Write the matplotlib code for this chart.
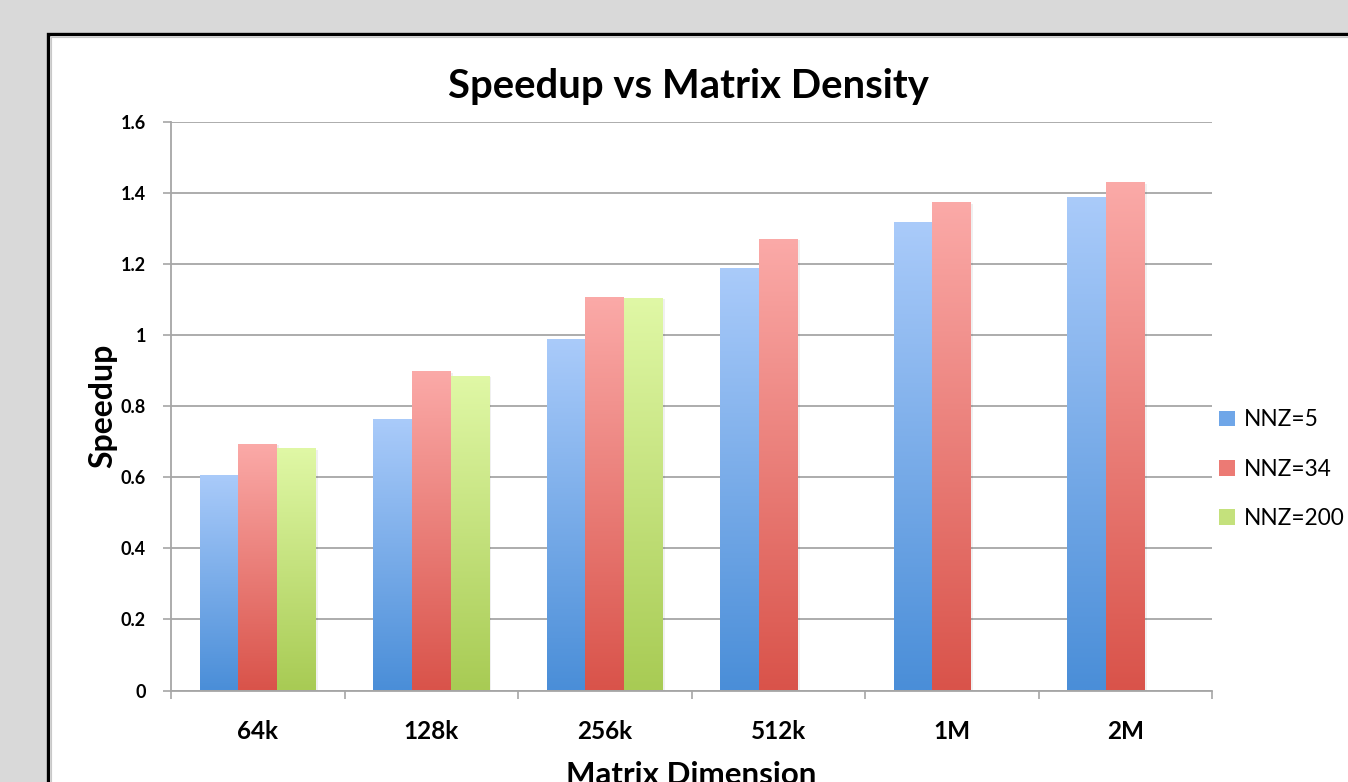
import numpy as np
import matplotlib
matplotlib.use("Agg")
import matplotlib.pyplot as plt
from matplotlib.patches import Rectangle, Patch
from matplotlib.colors import LinearSegmentedColormap

categories = ["64k", "128k", "256k", "512k", "1M", "2M"]
series_names = ["NNZ=5", "NNZ=34", "NNZ=200"]
nnz5 = [0.607, 0.763, 0.988, 1.188, 1.319, 1.388]
nnz34 = [0.694, 0.898, 1.107, 1.271, 1.374, 1.430]
nnz200 = [0.682, 0.885, 1.105, None, None, None]
y_ticks = [0, 0.2, 0.4, 0.6, 0.8, 1, 1.2, 1.4, 1.6]
y_tick_labels = ["0", "0.2", "0.4", "0.6", "0.8", "1", "1.2", "1.4", "1.6"]

# (top colour, bottom colour) for each series' vertical gradient
gradients = [("#aacbfa", "#4a8ed8"), ("#fbaaa8", "#d9534a"), ("#e0f8a6", "#a8cb54")]
legend_colors = ["#6fa6e8", "#ec7a74", "#c4e17c"]

FONT = "Lato"
W, H = 1348, 782
fig = plt.figure(figsize=(W / 100, H / 100), dpi=100)
fig.patch.set_facecolor("#d9d9d9")

# white chart panel with a dark frame (runs off the right and bottom edges)
px = lambda x: x / W
py = lambda y: 1 - y / H
fig.patches.append(Rectangle((px(48), py(800)), px(1400), py(34.5) - py(800),
                             transform=fig.transFigure, facecolor="white",
                             edgecolor="black", linewidth=2.4, zorder=-5))
fig.lines.append(plt.Line2D([px(50.5), px(1348)], [py(36.8), py(36.8)],
                            transform=fig.transFigure, color="#c8c8c8", lw=0.8, zorder=-4))
fig.lines.append(plt.Line2D([px(50.8), px(50.8)], [py(36.8), 0],
                            transform=fig.transFigure, color="#c8c8c8", lw=0.8, zorder=-4))

ax = fig.add_axes([px(171), py(690.5), px(1212) - px(171), py(122) - py(690.5)])
ax.set_facecolor("none")
ax.set_zorder(1)

bar_w = 38.7 / 173.6
series = [nnz5, nnz34, nnz200]
x = np.arange(len(categories))
grad = np.linspace(0, 1, 256).reshape(-1, 1)
for i, vals in enumerate(series):
    top, bottom = gradients[i]
    cmap = LinearSegmentedColormap.from_list(f"g{i}", [bottom, top])
    for j, v in enumerate(vals):
        if v is None:
            continue
        xpos = x[j] + (i - 1) * bar_w
        bar = ax.bar(xpos, v, width=bar_w, color="none", edgecolor="none", zorder=3)[0]
        x0, w = bar.get_x(), bar.get_width()
        # faint drop shadow
        ax.add_patch(Rectangle((x0 + w * 0.05, 0), w, v - 0.004, facecolor="#000000",
                               alpha=0.06, edgecolor="none", zorder=2.5))
        im = ax.imshow(grad, cmap=cmap, origin="lower", aspect="auto",
                       extent=[x0, x0 + w, 0, v], zorder=3, interpolation="bilinear")
        im.set_clip_path(bar)

ax.set_xlim(-0.5, len(categories) - 0.5)
ax.set_ylim(0, 1.6)

grid_color = "#a6a6a6"
ax.set_yticks(y_ticks)
ax.set_yticklabels(y_tick_labels, fontfamily=FONT, fontweight="bold", fontsize=13)
ax.yaxis.grid(True, color=grid_color, linewidth=1.3, zorder=1)
ax.set_axisbelow(True)

ax.set_xticks(np.arange(len(categories) + 1) - 0.5)
ax.set_xticklabels([])
ax.set_xticks(x, minor=True)
ax.set_xticklabels(categories, minor=True, fontfamily=FONT, fontweight="bold", fontsize=17.5)
ax.tick_params(axis="x", which="major", length=6, width=1.2, color=grid_color, direction="out")
ax.tick_params(axis="x", which="minor", length=0, pad=21)
ax.tick_params(axis="y", length=6, width=1.2, color=grid_color, direction="out", pad=12)

for s in ["top", "right"]:
    ax.spines[s].set_visible(False)
for s in ["left", "bottom"]:
    ax.spines[s].set_color(grid_color)
    ax.spines[s].set_linewidth(1.3)

fig.text(px(688), py(98), "Speedup vs Matrix Density", ha="center", va="baseline",
         fontfamily=FONT, fontweight="bold", fontsize=28.8)
fig.text(px(691.5), py(784), "Matrix Dimension", ha="center", va="baseline",
         fontfamily=FONT, fontweight="bold", fontsize=22.5)
fig.text(px(103), py(406), "Speedup", ha="center", va="center", rotation=90,
         fontfamily=FONT, fontweight="bold", fontsize=23)

handles = [Patch(facecolor=c, edgecolor="none") for c in legend_colors]
leg = fig.legend(handles, series_names, loc="upper left",
                 bbox_to_anchor=(px(1199), py(389)), frameon=False,
                 prop={"family": FONT, "size": 16.3}, handlelength=0.68,
                 handleheight=0.68, handletextpad=0.42, labelspacing=1.25)

fig.savefig("out.png", dpi=100, facecolor=fig.get_facecolor())
